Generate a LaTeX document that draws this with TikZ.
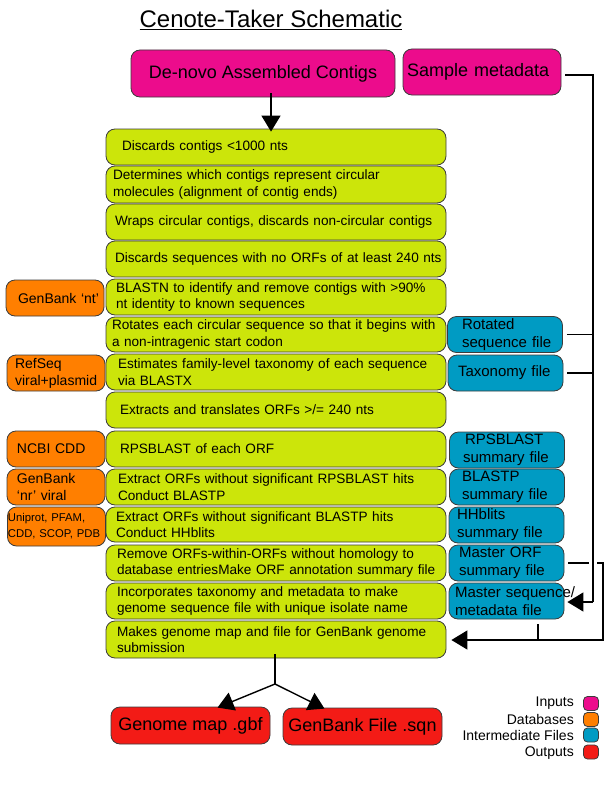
\documentclass[tikz,border=0pt]{standalone}
\usepackage{fontspec}
\setmainfont{Liberation Sans}
\usetikzlibrary{arrows.meta}
\definecolor{cin}{RGB}{236,12,140}
\definecolor{cgr}{RGB}{204,229,10}
\definecolor{cor}{RGB}{255,127,0}
\definecolor{cbl}{RGB}{0,155,195}
\definecolor{cre}{RGB}{243,27,22}
\definecolor{cbd}{RGB}{60,60,60}
\begin{document}
\begin{tikzpicture}[x=1pt,y=-1pt,
  box/.style={draw=cbd, line width=0.8pt, rounded corners=9pt, inner sep=0pt, text=black},
  gbox/.style={box, fill=cgr, minimum width=340pt, minimum height=36pt, text width=336pt, align=left, font=\fontsize{13.6}{16.5}\selectfont},
  obox/.style={box, fill=cor, minimum width=98pt, minimum height=36pt, text width=88pt, align=left, font=\fontsize{14}{17}\selectfont},
  bbox/.style={box, fill=cbl, minimum width=115pt, minimum height=36pt, text width=103pt, align=left, font=\fontsize{15}{18}\selectfont},
  ibox/.style={box, fill=cin, minimum height=47pt, font=\fontsize{18}{21}\selectfont},
  rbox/.style={box, fill=cre, minimum width=159pt, minimum height=37pt, font=\fontsize{18}{21}\selectfont},
  lgd/.style={draw=cbd, line width=0.8pt, rounded corners=4pt, minimum width=15pt, minimum height=14pt, inner sep=0pt},
  lgt/.style={anchor=east, inner sep=0pt, font=\fontsize{14}{16}\selectfont},
  conn/.style={line width=1.4pt, black},
  tip/.style={-{Triangle[length=16pt,width=19pt]}}
]
\useasboundingbox (0,0) rectangle (612,792);

\node[inner sep=0pt, font=\fontsize{24}{28}\selectfont] (title) at (271,20) {\underline{Cenote-Taker Schematic}};

% inputs
\node[ibox, minimum width=264pt] (dn) at (263,73.5) {De-novo Assembled Contigs};
\node[ibox, minimum width=158pt, minimum height=46pt, text width=150pt, align=left] (sm) at (482,72) {Sample metadata};

% green process boxes
\node[gbox] (g1) at (276,147) {\hspace*{14pt}Discards contigs <1000 nts};
\node[gbox, minimum height=37pt] (g2) at (276,184.5) {\hspace*{5pt}Determines which contigs represent circular\\\hspace*{5pt}molecules (alignment of contig ends)};
\node[gbox] (g3) at (276,222) {\hspace*{7pt}\mbox{Wraps circular contigs, discards non-circular contigs}};
\node[gbox] (g4) at (276,259) {\hspace*{7pt}\mbox{Discards sequences with no ORFs of at least 240 nts}};
\node[gbox] (g5) at (276,297) {\hspace*{8pt}BLASTN to identify and remove contigs with >90\%\\\hspace*{8pt}nt identity to known sequences};
\node[gbox, minimum height=35pt] (g6) at (276,334.5) {\hspace*{4pt}\mbox{Rotates each circular sequence so that it begins with}\\\hspace*{4pt}a non-intragenic start codon};
\node[gbox] (g7) at (276,372) {\hspace*{10pt}\mbox{Estimates family-level taxonomy of each sequence}\\\hspace*{10pt}via BLASTX};
\node[gbox] (g8) at (276,410) {\hspace*{12pt}Extracts and translates ORFs >/= 240 nts};
\node[gbox] (g9) at (276,449) {\hspace*{12pt}RPSBLAST of each ORF};
\node[gbox] (g10) at (276,487) {\hspace*{10pt}Extract ORFs without significant RPSBLAST hits\\\hspace*{10pt}Conduct BLASTP};
\node[gbox, minimum height=35pt] (g11) at (276,524.5) {\hspace*{8pt}Extract ORFs without significant BLASTP hits\\\hspace*{8pt}Conduct HHblits};
\node[gbox] (g12) at (276,563) {\hspace*{9pt}Remove ORFs-within-ORFs without homology to\\\hspace*{9pt}\mbox{database entriesMake ORF annotation summary file}};
\node[gbox] (g13) at (276,601) {\hspace*{9pt}Incorporates taxonomy and metadata to make\\\hspace*{9pt}\mbox{genome sequence file with unique isolate name}};
\node[gbox, minimum height=37pt] (g14) at (276,639.5) {\hspace*{9pt}Makes genome map and file for GenBank genome\\\hspace*{9pt}submission};

% databases
\node[obox, align=right] (d1) at (55,298) {GenBank ‘nt’};
\node[obox] (d2) at (56,373) {\hspace*{3pt}RefSeq\\\hspace*{3pt}viral+plasmid};
\node[obox] (d3) at (56,449) {\hspace*{5pt}NCBI CDD};
\node[obox] (d4) at (56,487) {\hspace*{5pt}GenBank\\\hspace*{5pt}‘nr’ viral};
\node[obox, minimum height=39pt, text width=97pt, font=\fontsize{11.3}{16}\selectfont] (d5) at (56.5,526.5) {\mbox{Uniprot, PFAM,}\\\mbox{CDD, SCOP, PDB}};

% intermediate files
\node[bbox] (f1) at (505,334.5) {\hspace*{8.5pt}Rotated\\\hspace*{8.5pt}sequence file};
\node[bbox] (f2) at (505.5,373) {\hspace*{4pt}Taxonomy file};
\node[bbox] (f3) at (507,450) {\hspace*{9.5pt}RPSBLAST\\\hspace*{7.5pt}summary file};
\node[bbox] (f4) at (507,487) {\hspace*{6.5pt}BLASTP\\\hspace*{6.5pt}summary file};
\node[bbox] (f5) at (506.5,525) {\hspace*{2pt}HHblits\\\hspace*{2pt}summary file};
\node[bbox] (f6) at (506.5,563) {\hspace*{4pt}Master ORF\\\hspace*{4pt}summary file};
\node[bbox] (f7) at (506.5,601) {\mbox{Master sequence/}\\metadata file};

% outputs
\node[rbox] (o1) at (190.5,725.5) {Genome map .gbf};
\node[rbox] (o2) at (362.5,726.5) {GenBank File .sqn};

% legend
\node[lgd, fill=cin] (l1) at (591,703.5) {};
\node[lgd, fill=cor] (l2) at (591,719.5) {};
\node[lgd, fill=cbl] (l3) at (591,735) {};
\node[lgd, fill=cre] (l4) at (591,752) {};
\node[lgt] (t1) at (574,703.5) {Inputs};
\node[lgt] (t2) at (574,719) {Databases};
\node[lgt] (t3) at (574,735.5) {Intermediate Files};
\node[lgt] (t4) at (574,753) {Outputs};

% connectors
\draw[conn, tip] ([yshift=4pt]dn.south -| 271,0) -- ([yshift=-3pt]g1.north -| 271,0);

\coordinate (vtop) at (593,75);
\coordinate (vbot) at (593,602);
\draw[conn] ([xshift=4pt]sm.east |- vtop) -- (vtop) -- (vbot);
\draw[conn, tip] (vbot) -- ([xshift=3pt]f7.east |- vbot);
\draw[conn] ([xshift=4pt]f1.east) -- (f1.east -| vtop);
\draw[conn] ([xshift=4pt]f2.east) -- (f2.east -| vtop);

\coordinate (rtop) at (603,563);
\coordinate (rbot) at (603,640);
\coordinate (jn) at (538,640);
\draw[conn] ([xshift=4pt]f6.east) -- (589,563);
\draw[conn] (597,563) -- (rtop) -- (rbot) -- (jn);
\draw[conn, tip] (jn) -- ([xshift=5pt]g14.east |- jn);
\draw[conn] (jn |- 0,624) -- (jn);

\coordinate (br) at (275,684);
\draw[conn] ([yshift=4pt]g14.south -| br) -- (br);
\draw[conn, tip] (br) -- ([xshift=27pt,yshift=-1pt]o1.north);
\draw[conn, tip] (br) -- ([xshift=-38pt,yshift=-1pt]o2.north);
\end{tikzpicture}
\end{document}
